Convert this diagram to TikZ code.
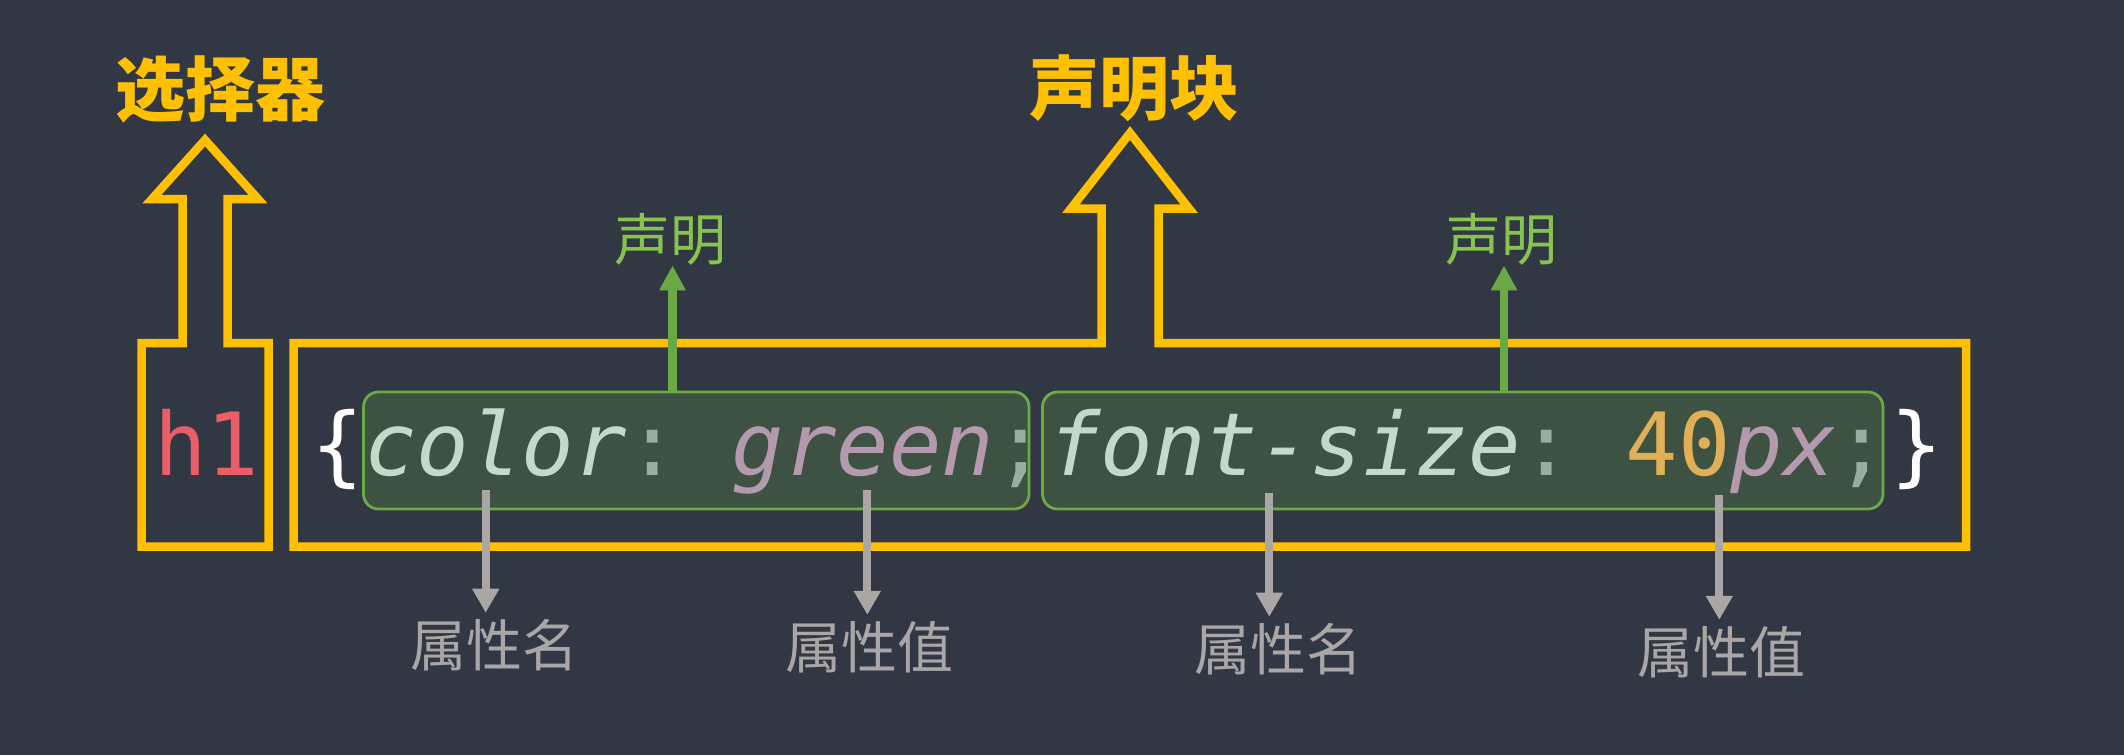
\documentclass[tikz,border=0pt]{standalone}
\usepackage{fontspec}
\usetikzlibrary{arrows.meta}
\newfontfamily\cjk{Noto Sans CJK SC}
\newfontfamily\mono{DejaVu Sans Mono}
\definecolor{bg}{HTML}{313843}
\definecolor{cyellow}{HTML}{FFC000}
\definecolor{cgfill}{HTML}{3E5244}
\definecolor{cgborder}{HTML}{6CAA44}
\definecolor{cgarrow}{HTML}{6BA846}
\definecolor{cglabel}{HTML}{86C44F}
\definecolor{cgray}{HTML}{AAA6A6}
\definecolor{cprop}{HTML}{C5D9CB}
\definecolor{cpunct}{HTML}{9AAE9F}
\definecolor{cval}{HTML}{B59AAF}
\definecolor{cnum}{HTML}{E0B056}
\definecolor{cred}{HTML}{EB5E68}
\begin{document}
\begin{tikzpicture}[x=0.5pt,y=-0.5pt,
  yel/.style={draw=cyellow, line width=4.25pt, line join=miter},
  gbox/.style={draw=cgborder, fill=cgfill, line width=1.4pt, rounded corners=7.5pt},
  code/.style={inner sep=0pt, font=\fontsize{43.6}{50}\selectfont\mono\frenchspacing},
  title/.style={inner sep=0pt, text=cyellow, font=\fontsize{35}{40}\selectfont\cjk\bfseries},
  decl/.style={inner sep=0pt, text=cglabel, font=\fontsize{28}{32}\selectfont\cjk},
  part/.style={inner sep=0pt, text=cgray, font=\fontsize{28}{32}\selectfont\cjk},
  garrow/.style={draw=cgarrow, line width=4.1pt, -{Triangle[width=12.5pt,length=12.5pt]}},
  grayarrow/.style={draw=cgray, line width=4.15pt, -{Triangle[width=12.8pt,length=12pt]}}
]
\fill[bg] (0,0) rectangle (2124,755);
\useasboundingbox (0,0) rectangle (2124,755);

% yellow outline arrows
\draw[yel] (141.5,546.7) -- (141.5,343) -- (182.5,343) -- (182.5,199) -- (152,199)
  -- (205,140) -- (258,199) -- (227.5,199) -- (227.5,343) -- (268.5,343)
  -- (268.5,546.7) -- cycle;
\draw[yel] (293.5,546.7) -- (293.5,343) -- (1101.5,343) -- (1101.5,208.5) -- (1071,208.5)
  -- (1130,133) -- (1189,208.5) -- (1158.5,208.5) -- (1158.5,343) -- (1966,343)
  -- (1966,546.7) -- cycle;

% titles
\node[title] (sel) at (220,89) {选择器};
\node[title] (blk) at (1134,88) {声明块};

% declaration boxes
\draw[gbox] (363.5,392) rectangle (1029,509);
\draw[gbox] (1042.5,392) rectangle (1883,509);

% code text
\node[code, anchor=base, text=cred] (sel1) at (207,475) {h1};
\node[code, anchor=base, text=white] (lb) at (338,475) {\{};
\node[code, anchor=base, text=white] (rb) at (1917,475) {\}};
\node[code, anchor=base west] (d1text) at (364,475)
  {{\itshape\color{cprop}color}{\color{cpunct}:} {\itshape\color{cval}green}{\color{cpunct};}};
\node[code, anchor=base west] (d2text) at (1048,475)
  {{\itshape\color{cprop}font-size}{\color{cpunct}:} {\color{cnum}40}{\itshape\color{cval}px}{\color{cpunct};}};

% declaration labels
\node[decl] (s1) at (670,239) {声明};
\node[decl] (s2) at (1501,239) {声明};
\coordinate (d1) at (672.5,392);
\coordinate (d2) at (1504,392);
\draw[garrow] (d1) -- (d1 |- s1.south);
\draw[garrow] (d2) -- (d2 |- s2.south);

% property labels
\node[part] (n1) at (494,645) {属性名};
\node[part] (v1) at (869,647) {属性值};
\node[part] (n2) at (1278,649) {属性名};
\node[part] (v2) at (1721,652) {属性值};
\coordinate (p1) at (485.7,490);
\coordinate (p2) at (867.3,490);
\coordinate (p3) at (1269.3,493);
\coordinate (p4) at (1719.3,495);
\draw[grayarrow, shorten >=3pt] (p1) -- (p1 |- n1.north);
\draw[grayarrow, shorten >=3pt] (p2) -- (p2 |- v1.north);
\draw[grayarrow, shorten >=3pt] (p3) -- (p3 |- n2.north);
\draw[grayarrow, shorten >=3pt] (p4) -- (p4 |- v2.north);
\end{tikzpicture}
\end{document}
